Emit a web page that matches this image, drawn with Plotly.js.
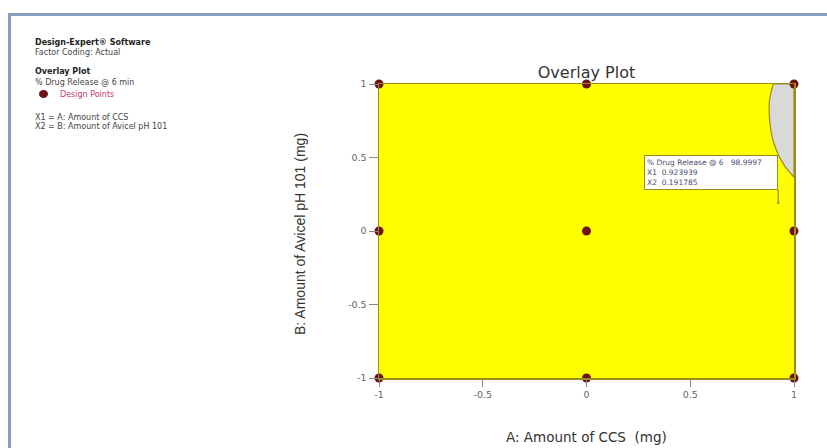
<!DOCTYPE html>
<html>
<head>
<meta charset="utf-8">
<script src="https://cdn.plot.ly/plotly-3.0.1.min.js"></script>
<style>
  html, body { margin: 0; padding: 0; background: #ffffff; }
  #wrap { position: relative; width: 827px; height: 448px; overflow: hidden; }
  #chart { position: absolute; left: 0; top: 0; width: 827px; height: 448px; }
  #frame { position: absolute; left: 8px; top: 13px; width: 830px; height: 450px;
           border-left: 3px solid #86a0bf; border-top: 3px solid #86a0bf; pointer-events: none; }
</style>
</head>
<body>
<div id="wrap">
  <div id="chart"></div>
  <div id="frame"></div>
</div>
<script>
// Design points (coded factor levels)
const designA = [-1, 0, 1, -1, 0, 1, -1, 0, 1];
const designB = [1, 1, 1, 0, 0, 0, -1, -1, -1];

// Boundary of the region outside the % Drug Release criterion (top-right corner)
const boundaryA = [0.900, 0.888, 0.880, 0.881, 0.888, 0.900, 0.924, 0.957, 0.997, 1.0, 1.0, 0.900];
const boundaryB = [1.0, 0.937, 0.869, 0.778, 0.687, 0.608, 0.517, 0.438, 0.370, 0.365, 1.0, 1.0];

// Flag point
const flagLabel = '% Drug Release @ 6';
const flagValue = 98.9997;
const flagX1 = 0.923939;
const flagX2 = 0.191785;

// Axis ticks
const tickVals = [-1, -0.5, 0, 0.5, 1];
const tickText = ['-1', '-0.5', '0', '0.5', '1'];

// Side information text
const infoLines = [
  {text: '<b>Design-Expert® Software</b>', y: 43, color: '#222'},
  {text: 'Factor Coding: Actual', y: 52, color: '#444'},
  {text: '<b>Overlay Plot</b>', y: 72, color: '#222'},
  {text: '% Drug Release @ 6 min', y: 82, color: '#444'},
  {text: 'Design Points', y: 94, color: '#c8406e', x: 58},
  {text: 'X1 = A: Amount of CCS', y: 117, color: '#444'},
  {text: 'X2 = B: Amount of Avicel pH 101', y: 126, color: '#444'}
];

const W = 827, H = 448;
const M = {l: 379, r: 33, t: 84, b: 70};
const pw = W - M.l - M.r, ph = H - M.t - M.b;
const px2paper = px => (px - M.l) / pw;
const py2paper = py => (H - M.b - py) / ph;

const olive = '#9a8c1c';
const sans = 'DejaVu Sans, sans-serif';

const traces = [
  {
    x: boundaryA, y: boundaryB, type: 'scatter', mode: 'lines',
    fill: 'toself', fillcolor: '#d9d9d9',
    line: {color: olive, width: 1.2},
    hoverinfo: 'skip', showlegend: false
  },
  {
    x: designA, y: designB, type: 'scatter', mode: 'markers',
    marker: {color: '#6e1216', size: 9, line: {width: 0}},
    cliponaxis: false, showlegend: false, name: 'Design Points'
  }
];

const annotations = infoLines.map(l => ({
  xref: 'paper', yref: 'paper',
  x: px2paper(l.x || 33), y: py2paper(l.y),
  xanchor: 'left', yanchor: 'middle',
  text: l.text, showarrow: false,
  font: {family: sans, size: 8, color: l.color}
}));

// Flag with pin
annotations.push({
  x: flagX1, y: flagX2, xref: 'x', yref: 'y',
  text: flagLabel + '&nbsp;&nbsp;&nbsp;' + flagValue.toFixed(4) +
        '<br>X1&nbsp;&nbsp;' + flagX1.toFixed(6) +
        '<br>X2&nbsp;&nbsp;' + flagX2.toFixed(6),
  align: 'left',
  showarrow: true, arrowhead: 6, arrowsize: 0.5, arrowwidth: 1.2, arrowcolor: olive,
  ax: 0, ay: -13, xanchor: 'right', yanchor: 'bottom',
  bgcolor: '#ffffff', bordercolor: olive, borderwidth: 1, borderpad: 2,
  width: 128,
  font: {family: sans, size: 7.5, color: '#4a4a6e'}
});

// Axis titles
annotations.push({
  xref: 'paper', yref: 'paper', x: px2paper(586), y: py2paper(437),
  xanchor: 'center', yanchor: 'middle', showarrow: false,
  text: 'A: Amount of CCS&nbsp;&nbsp;(mg)',
  font: {family: sans, size: 13.5, color: '#333'}
});
annotations.push({
  xref: 'paper', yref: 'paper', x: px2paper(300), y: py2paper(234),
  xanchor: 'center', yanchor: 'middle', showarrow: false, textangle: -90,
  text: 'B: Amount of Avicel pH 101 (mg)',
  font: {family: 'Liberation Sans Narrow, Arial Narrow, Liberation Sans, sans-serif', size: 14, color: '#333'}
});

const shapes = [
  // legend dot for design points
  {type: 'circle', xref: 'paper', yref: 'paper',
   x0: px2paper(39), x1: px2paper(48), y0: py2paper(98), y1: py2paper(90),
   fillcolor: '#6e1216', line: {width: 0}}
];

const axisCommon = {
  range: [-1, 1], tickvals: tickVals, ticktext: tickText,
  showgrid: false, zeroline: false,
  showline: true, linecolor: olive, linewidth: 1.5, mirror: true,
  ticks: 'outside', tickcolor: '#888', tickwidth: 1,
  tickfont: {family: sans, size: 9.5, color: '#666'}
};

const layout = {
  width: W, height: H,
  margin: M,
  paper_bgcolor: '#ffffff',
  plot_bgcolor: '#ffff00',
  title: {
    text: 'Overlay Plot', x: 0.5 * (M.l + (W - M.r)) / W, xanchor: 'center',
    y: 1 - 72 / H, yanchor: 'middle',
    font: {family: sans, size: 16, color: '#333'}
  },
  xaxis: Object.assign({}, axisCommon, {ticklen: 7}),
  yaxis: Object.assign({}, axisCommon, {ticklen: 9}),
  annotations: annotations,
  shapes: shapes,
  showlegend: false
};

Plotly.newPlot('chart', traces, layout, {displayModeBar: false, staticPlot: true});
</script>
</body>
</html>
